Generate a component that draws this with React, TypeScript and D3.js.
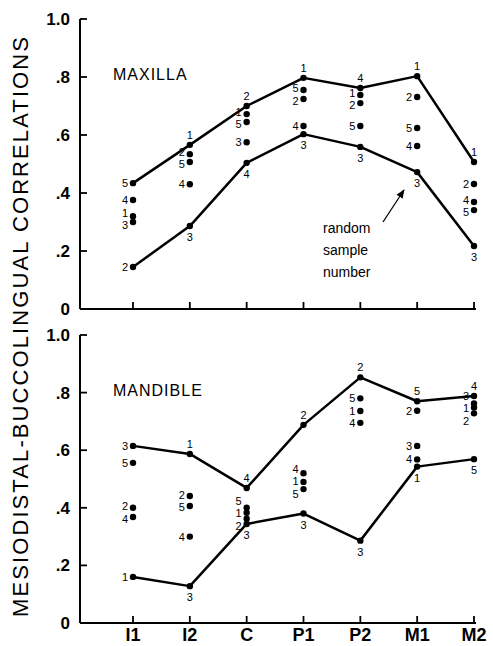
import React from 'react';
import * as d3 from 'd3';

const categories = ['I1', 'I2', 'C', 'P1', 'P2', 'M1', 'M2'];
const yTicks = [0, 0.2, 0.4, 0.6, 0.8, 1.0];
const yTickLabels = ['0', '.2', '.4', '.6', '.8', '1.0'];

// maxilla, one array per random sample (values per tooth)
const maxilla1 = [0.32, 0.566, 0.672, 0.797, 0.738, 0.803, 0.507];
const maxilla2 = [0.145, 0.534, 0.7, 0.724, 0.71, 0.731, 0.431];
const maxilla3 = [0.3, 0.286, 0.575, 0.603, 0.559, 0.472, 0.217];
const maxilla4 = [0.376, 0.43, 0.504, 0.631, 0.762, 0.562, 0.369];
const maxilla5 = [0.434, 0.507, 0.645, 0.755, 0.631, 0.624, 0.341];

// mandible
const mandible1 = [0.16, 0.587, 0.383, 0.49, 0.736, 0.543, 0.748];
const mandible2 = [0.4, 0.441, 0.362, 0.688, 0.853, 0.737, 0.728];
const mandible3 = [0.615, 0.128, 0.344, 0.38, 0.286, 0.615, 0.762];
const mandible4 = [0.368, 0.3, 0.469, 0.52, 0.695, 0.568, 0.788];
const mandible5 = [0.556, 0.406, 0.4, 0.465, 0.78, 0.77, 0.569];

const maxillaSamples = [maxilla1, maxilla2, maxilla3, maxilla4, maxilla5];
const mandibleSamples = [mandible1, mandible2, mandible3, mandible4, mandible5];

const W = 493;
const H = 646;
const font = '"Liberation Sans", Arial, sans-serif';

function Panel({ samples, top, bottom, title, showXLabels }: any) {
  const x = d3.scalePoint<string>().domain(categories).range([133, 474]);
  const y = d3.scaleLinear().domain([0, 1]).range([bottom, top]);
  const axisX = 80;
  const axisEnd = 476;

  const maxVals = categories.map((_, i) => d3.max(samples, (s: number[]) => s[i]) as number);
  const minVals = categories.map((_, i) => d3.min(samples, (s: number[]) => s[i]) as number);
  const line = d3
    .line<number>()
    .x((_, i) => x(categories[i]) as number)
    .y((d) => y(d));

  // label placement: max above, min below, others to the left (spread apart)
  const labels: any[] = [];
  categories.forEach((c, ci) => {
    const cx = x(c) as number;
    const left: any[] = [];
    samples.forEach((s: number[], si: number) => {
      const v = s[ci];
      const isMax = v === maxVals[ci];
      const isMin = v === minVals[ci];
      if (ci > 0 && isMax) {
        labels.push({ t: si + 1, x: cx, y: y(v) - 6, anchor: 'middle' });
      } else if (ci > 0 && isMin) {
        labels.push({ t: si + 1, x: cx, y: y(v) + 15, anchor: 'middle' });
      } else {
        left.push({ t: si + 1, x: cx - 5, y: y(v) + 4, y0: y(v) + 4, anchor: 'end' });
      }
    });
    left.sort((a, b) => a.y - b.y);
    const gap = 12.5;
    for (let k = 1; k < left.length; k++) {
      if (left[k].y - left[k - 1].y < gap) left[k].y = left[k - 1].y + gap;
    }
    // re-centre each pushed cluster
    let k = 0;
    while (k < left.length) {
      let j = k;
      while (j + 1 < left.length && left[j + 1].y - left[j].y <= gap + 0.01) j++;
      const group = left.slice(k, j + 1);
      const shift = d3.mean(group, (g: any) => g.y - g.y0) as number;
      group.forEach((g: any) => (g.y -= shift));
      k = j + 1;
    }
    labels.push(...left);
  });

  return (
    <g>
      {/* axes */}
      <line x1={axisX} x2={axisX} y1={y(0)} y2={y(1)} stroke="#000" strokeWidth={2} />
      <line x1={axisX} x2={axisEnd} y1={y(0)} y2={y(0)} stroke="#000" strokeWidth={2} />
      {yTicks.map((t, i) => (
        <g key={'yt' + i}>
          {t > 0 && <line x1={axisX} x2={axisX + 7} y1={y(t)} y2={y(t)} stroke="#000" strokeWidth={1.8} />}
          <text
            x={axisX - 10}
            y={y(t) + 6}
            textAnchor="end"
            fontFamily={font}
            fontWeight="bold"
            fontSize={17}
          >
            {yTickLabels[i]}
          </text>
        </g>
      ))}
      {categories.map((c) => (
        <line
          key={'xt' + c}
          x1={x(c)}
          x2={x(c)}
          y1={y(0)}
          y2={y(0) - 7}
          stroke="#000"
          strokeWidth={1.8}
        />
      ))}
      {showXLabels &&
        categories.map((c) => (
          <text
            key={'xl' + c}
            x={x(c)}
            y={y(0) + 18}
            textAnchor="middle"
            fontFamily={font}
            fontWeight="bold"
            fontSize={18}
          >
            {c}
          </text>
        ))}

      <text x={113} y={y(0.8) + 3} fontFamily={font} fontSize={16} letterSpacing={1}>
        {title}
      </text>

      {/* range lines */}
      <path d={line(maxVals) as string} fill="none" stroke="#000" strokeWidth={2.5} strokeLinejoin="round" />
      <path d={line(minVals) as string} fill="none" stroke="#000" strokeWidth={2.5} strokeLinejoin="round" />

      {/* sample points */}
      {samples.map((s: number[], si: number) =>
        s.map((v, ci) => (
          <circle key={'p' + si + '-' + ci} cx={x(categories[ci])} cy={y(v)} r={3.2} fill="#000" />
        ))
      )}
      {labels.map((l, i) => (
        <text
          key={'lb' + i}
          x={l.x}
          y={l.y}
          textAnchor={l.anchor}
          fontFamily={font}
          fontSize={11}
        >
          {l.t}
        </text>
      ))}
    </g>
  );
}

export default function App() {
  return (
    <svg width={W} height={H} style={{ position: 'absolute', left: 0, top: 0, background: '#fff' }}>
      <text
        transform="translate(28,327) rotate(-90)"
        textAnchor="middle"
        fontFamily={font}
        fontSize={22}
        textLength={580}
        lengthAdjust="spacing"
      >
        MESIODISTAL-BUCCOLINGUAL  CORRELATIONS
      </text>
      <Panel samples={maxillaSamples} top={19} bottom={309} title="MAXILLA" showXLabels={false} />
      <Panel samples={mandibleSamples} top={335} bottom={623} title="MANDIBLE" showXLabels={true} />

      {/* annotation */}
      <text fontFamily={font} fontSize={14} fill="#000">
        <tspan x={323} y={233}>random</tspan>
        <tspan x={323} y={255}>sample</tspan>
        <tspan x={323} y={277}>number</tspan>
      </text>
      <defs>
        <marker id="arr" viewBox="0 0 10 10" refX={9} refY={5} markerWidth={7} markerHeight={7} orient="auto">
          <path d="M0,1 L10,5 L0,9 z" fill="#000" />
        </marker>
      </defs>
      <line x1={383} y1={222} x2={404} y2={190} stroke="#000" strokeWidth={1.3} markerEnd="url(#arr)" />
    </svg>
  );
}
